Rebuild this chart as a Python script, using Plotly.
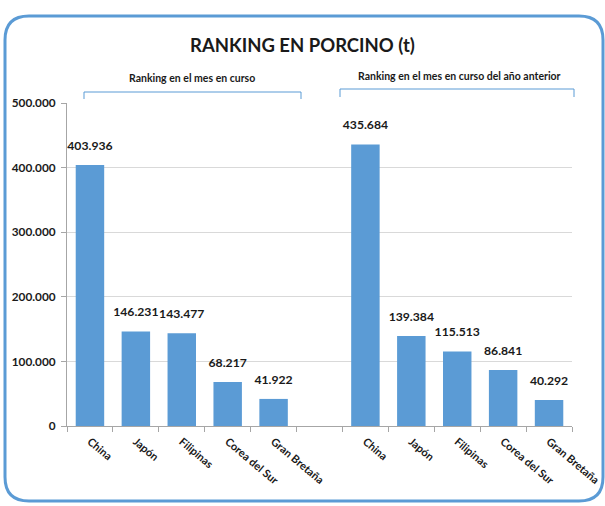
import plotly.graph_objects as go

categories = ["China", "Japón", "Filipinas", "Corea del Sur", "Gran Bretaña", "",
              "China", "Japón", "Filipinas", "Corea del Sur", "Gran Bretaña"]
values = [403936, 146231, 143477, 68217, 41922, None,
          435684, 139384, 115513, 86841, 40292]
group_labels = ["Ranking en el mes en curso", "Ranking en el mes en curso del año anterior"]
title_text = "RANKING EN PORCINO (t)"
y_ticks = [0, 100000, 200000, 300000, 400000, 500000]

W, H = 605, 506
L, R, T, B = 67, 572, 103, 426
BLUE = "#5b9bd5"
FONT = "Lato"


def px(x):
    return (x - L) / (R - L)


def py(y):
    return (B - y) / (B - T)


def rounded_rect(x0, y0, x1, y1, r):
    pts = [
        f"M {px(x0 + r)} {py(y0)}",
        f"L {px(x1 - r)} {py(y0)}",
        f"Q {px(x1)} {py(y0)} {px(x1)} {py(y0 + r)}",
        f"L {px(x1)} {py(y1 - r)}",
        f"Q {px(x1)} {py(y1)} {px(x1 - r)} {py(y1)}",
        f"L {px(x0 + r)} {py(y1)}",
        f"Q {px(x0)} {py(y1)} {px(x0)} {py(y1 - r)}",
        f"L {px(x0)} {py(y0 + r)}",
        f"Q {px(x0)} {py(y0)} {px(x0 + r)} {py(y0)}",
        "Z",
    ]
    return " ".join(pts)


def bracket(x0, x1, ytop, ybot):
    return (f"M {px(x0)} {py(ybot)} L {px(x0)} {py(ytop)} "
            f"L {px(x1)} {py(ytop)} L {px(x1)} {py(ybot)}")


xs = list(range(len(categories)))
fig = go.Figure()
fig.add_trace(go.Bar(
    x=xs, y=values,
    marker=dict(color=BLUE, line=dict(width=0)),
    width=0.62,
    hoverinfo="skip",
))
# value labels above bars (invisible markers give the gap above the bar top)
fig.add_trace(go.Scatter(
    x=xs, y=values,
    mode="markers+text",
    marker=dict(size=18, opacity=0, color=BLUE),
    texttemplate="%{y:,.0f}",
    textposition="top center",
    textfont=dict(family=FONT, size=12.2, color="#1a1a1a", weight="bold"),
    cliponaxis=False,
    hoverinfo="skip",
))

fig.update_layout(
    template="none",
    width=W, height=H,
    margin=dict(l=L, r=W - R, t=T, b=H - B, autoexpand=False),
    paper_bgcolor="white", plot_bgcolor="white",
    separators=",.",
    showlegend=False,
    font=dict(family=FONT, color="#1a1a1a"),
    xaxis=dict(
        automargin=False,
        range=[-0.5, len(categories) - 0.5],
        tickmode="array", tickvals=xs, ticktext=categories,
        ticks="", tickangle=40, ticklabelstandoff=4,
        tickfont=dict(family=FONT, size=11, color="#1a1a1a", weight="bold"),
        showline=True, linecolor="#a6a6a6", linewidth=1,
        showgrid=False, zeroline=False,
        minor=dict(tickmode="array",
                   tickvals=[i - 0.5 for i in range(len(categories) + 1)],
                   ticks="outside", ticklen=5, tickcolor="#a6a6a6", tickwidth=1,
                   showgrid=False),
    ),
    yaxis=dict(
        automargin=False,
        range=[0, 500000],
        tickmode="array", tickvals=y_ticks,
        tickformat=",d",
        ticks="outside", ticklen=5, tickcolor="#a6a6a6",
        ticklabelstandoff=3,
        tickfont=dict(family=FONT, size=11.8, color="#1a1a1a", weight="bold"),
        showline=True, linecolor="#a6a6a6", linewidth=1,
        showgrid=True, gridcolor="#d9d9d9", gridwidth=1,
        zeroline=False,
    ),
    shapes=[
        dict(type="path", xref="paper", yref="paper",
             path=rounded_rect(5, 16, 603, 501, 24),
             line=dict(color=BLUE, width=3), layer="above"),
        dict(type="path", xref="paper", yref="paper",
             path=bracket(84, 301, 92, 99),
             line=dict(color=BLUE, width=1)),
        dict(type="path", xref="paper", yref="paper",
             path=bracket(340, 574, 89, 97),
             line=dict(color=BLUE, width=1)),
    ],
    annotations=[
        dict(text=f"<b>{title_text}</b>", xref="paper", yref="paper",
             x=px(302), y=py(45), xanchor="center", yanchor="middle", showarrow=False,
             font=dict(family=FONT, size=18.5, color="#1a1a1a")),
        dict(text=f"<b>{group_labels[0]}</b>", xref="paper", yref="paper",
             x=px(192), y=py(78), xanchor="center", yanchor="middle", showarrow=False,
             font=dict(family=FONT, size=10.5, color="#1a1a1a")),
        dict(text=f"<b>{group_labels[1]}</b>", xref="paper", yref="paper",
             x=px(459), y=py(76), xanchor="center", yanchor="middle", showarrow=False,
             font=dict(family=FONT, size=10.5, color="#1a1a1a")),
    ],
)

fig.write_html("out.html", config={"displayModeBar": False},
               post_script="document.body.style.margin='0';")
